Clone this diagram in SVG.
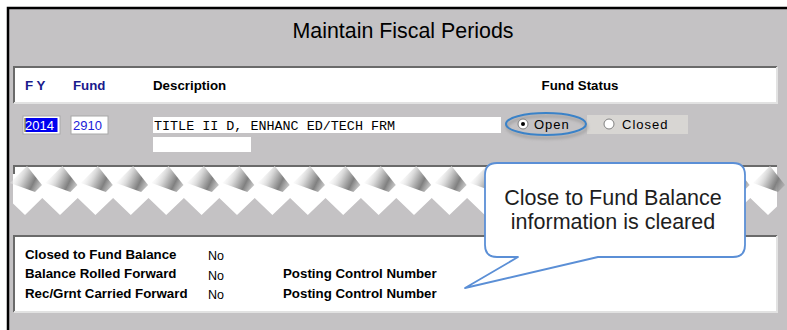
<svg xmlns="http://www.w3.org/2000/svg" width="787" height="330" viewBox="0 0 787 330">
  <style>
    .hdr { font-family: "Liberation Sans", Arial, sans-serif; font-size: 13.3px; font-weight: bold; }
    .lbl { font-family: "Liberation Sans", Arial, sans-serif; font-size: 13.3px; font-weight: bold; fill: #000; }
    .val { font-family: "Liberation Sans", Arial, sans-serif; font-size: 12.5px; fill: #000; }
    .mono { font-family: "Liberation Mono", "Courier New", monospace; font-size: 13.4px; fill: #000; }
    .radio-txt { font-family: "Liberation Sans", Arial, sans-serif; font-size: 13px; letter-spacing: 1px; fill: #000; }
    .panel { fill: #ffffff; }
    .edge-dark { stroke: #6a6a6a; stroke-width: 2; fill: none; }
    .edge-light { stroke: #e2e2e2; stroke-width: 2; fill: none; }
    .callout-txt { font-family: "Liberation Sans", Arial, sans-serif; font-size: 21.5px; fill: #1e1e1e; text-anchor: middle; }
  </style>
  <defs>
    <linearGradient id="shade" x1="0" y1="0.3" x2="1" y2="0.7">
      <stop offset="0" stop-color="#ffffff" stop-opacity="0"/>
      <stop offset="0.4" stop-color="#d6d6d6"/>
      <stop offset="0.75" stop-color="#808080"/>
      <stop offset="1" stop-color="#a0a0a0" stop-opacity="0.6"/>
    </linearGradient>
    <polygon id="tear" points="-17,183 0,166 15,185 8,192" fill="url(#shade)"/>
    <filter id="soft" x="-20%" y="-50%" width="140%" height="200%">
      <feGaussianBlur stdDeviation="1.5"/>
    </filter>
  </defs>

  <!-- window background and frame -->
  <rect x="0" y="0" width="787" height="330" fill="#ffffff"/>
  <rect x="8" y="8" width="779" height="322" fill="#c4c2c4"/>
  <path d="M8,330 V8 H787" stroke="#000" stroke-width="2.5" fill="none"/>

  <!-- title -->
  <text x="403" y="38" text-anchor="middle" font-family="Liberation Sans, Arial, sans-serif" font-size="21.4" fill="#000">Maintain Fiscal Periods</text>

  <!-- column header panel -->
  <g id="header">
    <rect class="panel" x="13" y="66" width="764" height="37"/>
    <path class="edge-dark" d="M14,103 V67 H777"/>
    <path class="edge-light" d="M777,67 V103 H14"/>
    <text class="hdr" x="25" y="90" fill="#1a1a8c">F Y</text>
    <text class="hdr" x="73" y="90" fill="#1a1a8c">Fund</text>
    <text class="hdr" x="153" y="90" fill="#000">Description</text>
    <text class="hdr" x="580" y="90" fill="#000" text-anchor="middle">Fund Status</text>
  </g>

  <!-- data row -->
  <g id="row">
    <rect x="23" y="116" width="37" height="18" fill="#fff" stroke="#a8a8a8" stroke-width="1"/>
    <rect x="24.5" y="118" width="33" height="14" fill="#0000f0"/>
    <line x1="25" y1="118" x2="25" y2="132" stroke="#e8d400" stroke-width="1"/>
    <text x="25" y="130" font-family="Liberation Sans, Arial, sans-serif" font-size="13" fill="#ffffff">2014</text>
    <rect x="71" y="116" width="37" height="18" fill="#fff" stroke="#a8a8a8" stroke-width="1"/>
    <text x="73" y="130" font-family="Liberation Sans, Arial, sans-serif" font-size="13" fill="#2020d8">2910</text>
    <rect x="153" y="117" width="348" height="16" fill="#fff"/>
    <text class="mono" x="154" y="130">TITLE II D, ENHANC ED/TECH FRM</text>
    <rect x="153" y="137" width="98" height="15" fill="#fff"/>
  </g>

  <!-- fund status radio group -->
  <g id="status">
    <rect x="587" y="115" width="101" height="19" fill="#d8d6d3"/>
    <ellipse cx="547" cy="127" rx="40" ry="11" fill="none" stroke="#8a8a8a" stroke-width="2.5" opacity="0.6" filter="url(#soft)"/>
    <ellipse cx="546" cy="124" rx="40" ry="11" fill="none" stroke="#3a82c8" stroke-width="2"/>
    <circle cx="523" cy="124" r="5" fill="#fff" stroke="#808080" stroke-width="1"/>
    <circle cx="523" cy="124" r="2" fill="#000"/>
    <text class="radio-txt" x="534" y="129">Open</text>
    <circle cx="609" cy="124" r="5" fill="#fff" stroke="#808080" stroke-width="1"/>
    <text class="radio-txt" x="622" y="129">Closed</text>
  </g>

  <!-- torn section -->
  <g id="torn">
    <path class="panel" d="M13,165 H777 V206.4 L768,215 L750.3,198 L732.6,215 L714.9,198 L697.2,215 L679.5,198 L661.8,215 L644.1,198 L626.4,215 L608.7,198 L591,215 L573.3,198 L555.6,215 L537.9,198 L520.2,215 L502.5,198 L484.8,215 L467.1,198 L449.4,215 L431.7,198 L414,215 L396.3,198 L378.6,215 L360.9,198 L343.2,215 L325.5,198 L307.8,215 L290.1,198 L272.4,215 L254.7,198 L237,215 L219.3,198 L201.6,215 L183.9,198 L166.2,215 L148.5,198 L130.8,215 L113.1,198 L95.4,215 L77.7,198 L60,215 L42.3,198 L25,215 L13,203.5 Z"/>
    <path class="edge-dark" d="M14,174 V166 H777"/>
    <use href="#tear" x="27"/>
    <use href="#tear" x="62.4"/>
    <use href="#tear" x="97.8"/>
    <use href="#tear" x="133.1"/>
    <use href="#tear" x="168.5"/>
    <use href="#tear" x="203.9"/>
    <use href="#tear" x="239.3"/>
    <use href="#tear" x="274.7"/>
    <use href="#tear" x="310"/>
    <use href="#tear" x="345.4"/>
    <use href="#tear" x="380.8"/>
    <use href="#tear" x="416.2"/>
    <use href="#tear" x="451.6"/>
    <use href="#tear" x="486.9"/>
    <use href="#tear" x="522.3"/>
    <use href="#tear" x="557.7"/>
    <use href="#tear" x="593.1"/>
    <use href="#tear" x="628.5"/>
    <use href="#tear" x="663.8"/>
    <use href="#tear" x="699.2"/>
    <use href="#tear" x="734.6"/>
    <use href="#tear" x="770"/>
  </g>

  <!-- fund balance detail panel -->
  <g id="details">
    <rect class="panel" x="13" y="235" width="764" height="77"/>
    <path class="edge-dark" d="M14,312 V236 H777"/>
    <path class="edge-light" d="M777,236 V312 H14"/>
    <text class="lbl" x="25" y="259">Closed to Fund Balance</text>
    <text class="lbl" x="25" y="278">Balance Rolled Forward</text>
    <text class="lbl" x="25" y="298">Rec/Grnt Carried Forward</text>
    <text class="val" x="208" y="260">No</text>
    <text class="val" x="208" y="280">No</text>
    <text class="val" x="208" y="299">No</text>
    <text class="lbl" x="283" y="278">Posting Control Number</text>
    <text class="lbl" x="283" y="298">Posting Control Number</text>
  </g>

  <!-- callout -->
  <g id="callout">
    <path d="M497,163 H733 Q745,163 745,175 V245 Q745,257 733,257 H598 L465,288 L518,257 H497 Q485,257 485,245 V175 Q485,163 497,163 Z" fill="#ffffff" stroke="#5b8fd6" stroke-width="1.8" stroke-linejoin="round"/>
    <text class="callout-txt" x="613" y="205">Close to Fund Balance</text>
    <text class="callout-txt" x="613" y="229">information is cleared</text>
  </g>
</svg>
